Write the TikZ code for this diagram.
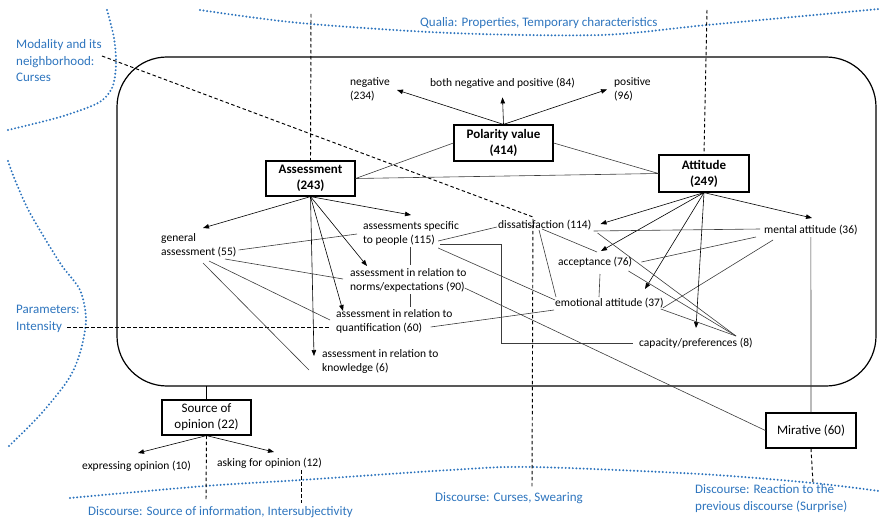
\documentclass[tikz,border=0pt]{standalone}
\usepackage{fontspec}
\setmainfont{Carlito}
\usetikzlibrary{arrows.meta}
\definecolor{bluedot}{RGB}{46,117,190}
\definecolor{linegray}{RGB}{60,60,60}
\begin{document}
\begin{tikzpicture}[x=1pt,y=-1pt,
 lbl/.style={inner sep=0pt, anchor=west, align=left, font=\fontsize{11.5}{14}\selectfont},
 bluetxt/.style={inner sep=0pt, anchor=west, align=left, text=bluedot, font=\fontsize{13}{16.5}\selectfont},
 boxb/.style={draw, line width=1.2pt, fill=white, align=center, inner sep=2pt, font=\fontsize{13}{16}\selectfont\bfseries},
 boxr/.style={draw, line width=1.2pt, fill=white, align=center, inner sep=2pt, font=\fontsize{13}{16}\selectfont},
 arr/.style={-{Triangle[length=6pt,width=4.5pt]}, line width=0.6pt, black},
 conn/.style={line width=0.6pt, linegray},
 dsh/.style={line width=0.95pt, dash pattern=on 3.5pt off 2.5pt},
 dots/.style={bluedot, line width=2.2pt, dash pattern=on 0pt off 3.6pt, line cap=round},
 frame/.style={line width=1.2pt, rounded corners=50pt}
]
\useasboundingbox (0,0) rectangle (879,519);

% blue dotted boundaries
\draw[dots] plot[smooth] coordinates {(200,10) (300,23) (450,33) (600,35) (707,25) (879,9)};
\draw[dots] plot[smooth] coordinates {(107,10) (114,38) (116,65) (112,88) (98,103) (60,117) (8,130)};
\draw[dots] plot[smooth] coordinates {(8,161) (15,180) (30,213) (60,263) (80,290) (86,320) (80,353) (68,380) (40,415) (8,447)};
\draw[dots] plot[smooth] coordinates {(70,498) (205,486) (301,480) (450,470) (532,467) (700,474) (813,483) (879,491)};

% blue texts
\node[bluetxt] (modal) at (16,61) {Modality and its\\neighborhood:\\Curses};
\node[bluetxt] (qualia) at (420,23) {Qualia: Properties, Temporary characteristics};
\node[bluetxt] (param) at (16,319) {Parameters:\\Intensity};
\node[bluetxt] (dsrc) at (88,512) {Discourse: Source of information, Intersubjectivity};
\node[bluetxt] (dcur) at (435,498) {Discourse: Curses, Swearing};
\node[bluetxt] (dreact) at (695,498.5) {Discourse: Reaction to the\\previous discourse (Surprise)};

% frame
\draw[frame] (117,57) rectangle (876,386);
\coordinate (fb) at (206.5,386);

% boxes
\node[boxb, minimum width=99pt, minimum height=36pt] (pol) at (503.5,143) {Polarity value\\(414)};
\node[boxb, minimum width=89pt, minimum height=35pt] (asm) at (310.5,178.5) {Assessment\\(243)};
\node[boxb, minimum width=90pt, minimum height=37pt] (att) at (704,173.5) {Attitude\\(249)};
\node[boxr, minimum width=89pt, minimum height=35pt] (src) at (206.5,417.5) {Source of\\opinion (22)};
\node[boxr, minimum width=90pt, minimum height=35pt] (mir) at (811,430.5) {Mirative (60)};

% labels
\node[lbl] (neg) at (350,89.5) {negative\\(234)};
\node[lbl] (both) at (430,83) {both negative and positive (84)};
\node[lbl] (pos) at (614,89.5) {positive\\(96)};
\node[lbl] (gen) at (161,245.5) {general\\assessment (55)};
\node[lbl] (spec) at (363,233) {assessments specific\\to people (115)};
\node[lbl] (norms) at (350,280) {assessment in relation to\\norms/expectations (90)};
\node[lbl] (quant) at (336,321.5) {assessment in relation to\\quantification (60)};
\node[lbl] (know) at (322,361) {assessment in relation to\\knowledge (6)};
\node[lbl] (diss) at (498,225) {dissatisfaction (114)};
\node[lbl] (acc) at (558,262) {acceptance (76)};
\node[lbl] (emo) at (555,303) {emotional attitude (37)};
\node[lbl] (cap) at (639,343) {capacity/preferences (8)};
\node[lbl] (ment) at (764,230) {mental attitude (36)};
\node[lbl] (expr) at (82,466) {expressing opinion (10)};
\node[lbl] (ask) at (217,463) {asking for opinion (12)};

% dashed lines
\coordinate (h1) at (311,14);
\coordinate (h2) at (707,10);
\coordinate (h3a) at (102,56);
\coordinate (h3b) at (533,217);
\coordinate (h3c) at (532,488);
\coordinate (h5) at (206,500);
\coordinate (h6) at (301,503);
\coordinate (h7) at (813,483);
\draw[dsh] (h1) -- (asm.north);
\draw[dsh] (h2) -- (att.north);
\draw[dsh] (h3a) -- (h3b) -- (h3c);
\draw[dsh] ([shift={(51,8.5)}]param.west) -- ([shift={(-6,6)}]quant.west);
\draw[dsh] (src.south) -- (h5);
\draw[dsh] ([shift={(84,7)}]ask.west) -- (h6);
\draw[dsh] (mir.south) -- (h7);

% solid connections to frame / mirative
\draw[line width=1.1pt] (src.north) -- (fb);
\draw[conn] ([yshift=-2pt]ment.south) -- (mir.north);

% polarity
\draw[arr] (pol.north) -- ([shift={(7,0.5)}]neg.east);
\draw[arr] (pol.north) -- ([shift={(0,9)}]both.south);
\draw[arr] (pol.north) -- ([shift={(-7,0)}]pos.west);
\draw[conn] (pol.west) -- (asm.east);
\draw[conn] (pol.east) -- (att.west);
\draw[conn] (asm.east) -- (att.west);

% assessment arrows
\draw[arr] (asm.south) -- ([shift={(42,-17.5)}]gen.west);
\draw[arr] (asm.south) -- ([shift={(48,-18)}]spec.west);
\draw[arr] (asm.south) -- ([shift={(17,-14)}]norms.west);
\draw[arr] (asm.south) -- ([shift={(7,-10.5)}]quant.west);
\draw[arr] (asm.south) -- ([shift={(-8,-5)}]know.west);

% attitude arrows
\draw[arr] (att.south) -- ([shift={(9,-1)}]diss.east);
\draw[arr] (att.south) -- ([shift={(43,-11)}]acc.west);
\draw[arr] (att.south) -- ([shift={(90,-14)}]emo.west);
\draw[arr] (att.south) -- ([shift={(57,-15)}]cap.west);
\draw[arr] (att.south) -- ([shift={(48,-12)}]ment.west);

% source arrows
\draw[arr] (src.south) -- ([shift={(56,-13)}]expr.west);
\draw[arr] (src.south) -- ([shift={(57,-11)}]ask.west);

% assessment inter-links
\draw[conn] ([shift={(2,4.5)}]gen.east) -- ([shift={(-6,1)}]spec.west);
\draw[conn] ([shift={(64,13.5)}]gen.west) -- ([shift={(-7,-1)}]norms.west);
\draw[conn] ([shift={(48,15.5)}]gen.west) -- ([shift={(-6,-1.5)}]quant.west);
\draw[conn] ([shift={(42,17.5)}]gen.west) -- ([shift={(-13,9)}]know.west);
\draw[conn] ([shift={(47,14)}]spec.west) -- ([shift={(60,-15)}]norms.west);
\draw[conn] ([shift={(60,14)}]norms.west) -- ([shift={(74,-14.5)}]quant.west);
\draw[conn] ([shift={(-21,8)}]spec.east) -- ([shift={(-1,2)}]diss.west);
\draw[conn] ([shift={(-19,11)}]spec.east) -| ([shift={(-138,0)}]cap.west) -- ([shift={(-6,0)}]cap.west);
\draw[conn] ([shift={(-21,15)}]spec.east) -- ([shift={(0,-3)}]emo.west);
\draw[conn] ([shift={(-22,5.5)}]quant.east) -- ([shift={(-1,7)}]emo.west);
\draw[conn] ([shift={(-2,8)}]norms.east) -- (mir.west);

% attitude inter-links
\coordinate (c8) at ([shift={(97,-7)}]cap.west);
\draw[conn] ([shift={(2,6)}]diss.east) -- ([shift={(-4,-1)}]ment.west);
\draw[conn] ([shift={(44,4)}]diss.west) -- ([shift={(39,-10)}]acc.west);
\draw[conn] ([shift={(41,5)}]diss.west) -- ([shift={(1,-6)}]emo.west);
\draw[conn] ([shift={(6,8)}]diss.east) -- (c8);
\draw[conn] ([shift={(42,12)}]acc.west) -- ([shift={(44,-6)}]emo.west);
\draw[conn] ([shift={(9,0)}]acc.east) -- ([shift={(-8,7)}]ment.west);
\draw[conn] ([shift={(-4,9)}]acc.east) -- (c8);
\draw[conn] ([shift={(9,10)}]ment.west) -- ([shift={(-1,5)}]emo.east);
\draw[conn] ([shift={(-3,6)}]emo.east) -- (c8);
\end{tikzpicture}
\end{document}
